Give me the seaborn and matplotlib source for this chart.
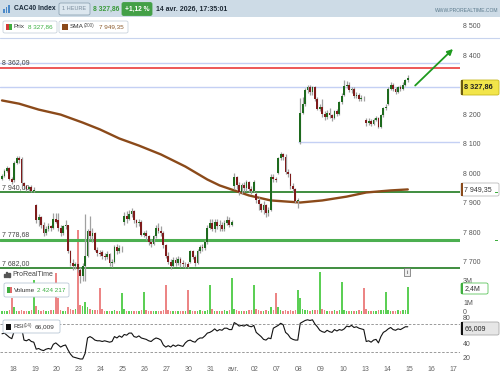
import numpy as np
import pandas as pd
import matplotlib
matplotlib.use("Agg")
import matplotlib.pyplot as plt
import matplotlib.transforms as mtransforms
from matplotlib.patches import Rectangle, FancyBboxPatch
import seaborn as sns

# ---------------- data (hourly bars, CAC40) ----------------
DAY_LABELS = ['18', '19', '20', '23', '24', '25', '26', '27', '30', '31', 'avr.',
              '02', '07', '08', '09', '10', '13', '14', '15', '16', '17']
BARS_PER_DAY = 9
FIRST_BAR = -5   # 5 bars of the previous session (17 mars)

OPEN = [7985, 7995, 8012, 8022, 7985,
        7980, 8040, 8055, 8052, 7970, 7960, 7950, 7958, 7945,
        7895, 7845, 7855, 7830, 7800, 7815, 7825, 7820, 7850,
        7845, 7820, 7800, 7825, 7828, 7740, 7700, 7690, 7695,
        7675, 7655, 7690, 7725, 7810, 7790, 7800, 7745, 7735,
        7738, 7725, 7720, 7730, 7700, 7705, 7755, 7740, 7750,
        7840, 7860, 7850, 7865, 7875, 7845, 7835, 7840, 7795,
        7800, 7790, 7770, 7765, 7790, 7820, 7810, 7800, 7760,
        7725, 7705, 7690, 7710, 7700, 7715, 7700, 7695, 7695,
        7705, 7740, 7720, 7700, 7740, 7755, 7750, 7770, 7820,
        7835, 7815, 7840, 7825, 7830, 7815, 7835, 7845, 7830,
        7960, 7990, 7965, 7940, 7965, 7955, 7975, 7950, 7945,
        7935, 7915, 7900, 7880, 7895, 7870, 7880, 7990, 7985,
        8005, 8055, 8070, 8060, 8010, 8000, 7960, 7950, 7910,
        8110, 8210, 8240, 8285, 8295, 8280, 8295, 8255, 8222,
        8230, 8205, 8195, 8210, 8200, 8190, 8215, 8205, 8245,
        8270, 8300, 8305, 8285, 8290, 8265, 8270, 8255, 8260,
        8185, 8175, 8180, 8172, 8185, 8190, 8160, 8200, 8225,
        8240, 8290, 8305, 8290, 8280, 8295, 8290, 8305, 8320]
HIGH = [8000, 8018, 8028, 8024, 7990,
        8045, 8063, 8062, 8058, 7975, 7966, 7962, 7964, 7958,
        7900, 7865, 7860, 7840, 7825, 7835, 7830, 7870, 7868,
        7868, 7830, 7830, 7845, 7830, 7745, 7715, 7705, 7700,
        7685, 7700, 7865, 7815, 7860, 7820, 7805, 7755, 7745,
        7745, 7735, 7740, 7735, 7715, 7760, 7765, 7760, 7758,
        7872, 7875, 7880, 7886, 7880, 7850, 7848, 7845, 7808,
        7812, 7795, 7780, 7795, 7830, 7835, 7825, 7808, 7765,
        7738, 7712, 7720, 7722, 7725, 7720, 7710, 7705, 7705,
        7745, 7745, 7728, 7748, 7762, 7765, 7778, 7828, 7850,
        7850, 7848, 7850, 7845, 7838, 7845, 7858, 7855, 7845,
        8005, 7995, 7975, 7970, 7975, 7980, 7978, 7960, 7982,
        7940, 7925, 7905, 7910, 7900, 7890, 8000, 8000, 7992,
        8060, 8075, 8073, 8068, 8020, 8005, 7970, 7955, 7920,
        8260, 8262, 8292, 8303, 8303, 8300, 8300, 8262, 8238,
        8255, 8215, 8220, 8225, 8205, 8220, 8222, 8250, 8275,
        8320, 8318, 8312, 8298, 8295, 8280, 8275, 8268, 8265,
        8192, 8190, 8188, 8192, 8198, 8195, 8205, 8230, 8238,
        8295, 8312, 8310, 8298, 8300, 8302, 8312, 8325, 8336]
LOW = [7980, 7990, 8008, 7980, 7968,
       7975, 8035, 8040, 7965, 7952, 7944, 7945, 7940, 7940,
       7835, 7825, 7820, 7790, 7795, 7810, 7808, 7815, 7835,
       7810, 7790, 7795, 7815, 7735, 7690, 7675, 7678, 7670,
       7632, 7640, 7640, 7720, 7780, 7770, 7740, 7725, 7725,
       7712, 7710, 7712, 7690, 7685, 7700, 7730, 7735, 7738,
       7830, 7835, 7845, 7855, 7835, 7822, 7825, 7790, 7788,
       7778, 7760, 7755, 7760, 7785, 7800, 7790, 7750, 7718,
       7695, 7678, 7685, 7690, 7692, 7688, 7685, 7682, 7682,
       7700, 7712, 7690, 7695, 7735, 7740, 7745, 7765, 7815,
       7810, 7805, 7815, 7810, 7808, 7810, 7830, 7822, 7825,
       7950, 7950, 7932, 7935, 7940, 7945, 7940, 7935, 7940,
       7905, 7880, 7872, 7865, 7855, 7858, 7875, 7975, 7975,
       8000, 8050, 8050, 8000, 7990, 7950, 7940, 7905, 7885,
       8105, 8205, 8232, 8275, 8270, 8270, 8250, 8218, 8215,
       8195, 8185, 8188, 8192, 8182, 8188, 8198, 8200, 8240,
       8265, 8292, 8280, 8275, 8260, 8258, 8250, 8248, 8250,
       8165, 8168, 8165, 8168, 8180, 8158, 8158, 8195, 8220,
       8235, 8285, 8282, 8272, 8275, 8282, 8285, 8300, 8315]
CLOSE = [7995, 8012, 8022, 7985, 7975,
         8040, 8055, 8050, 7970, 7960, 7950, 7958, 7945, 7948,
         7845, 7855, 7830, 7800, 7815, 7825, 7820, 7850, 7840,
         7820, 7800, 7825, 7828, 7740, 7700, 7690, 7695, 7680,
         7655, 7690, 7725, 7810, 7790, 7800, 7745, 7735, 7730,
         7725, 7720, 7730, 7700, 7705, 7755, 7740, 7750, 7752,
         7860, 7850, 7865, 7875, 7845, 7835, 7840, 7795, 7800,
         7790, 7770, 7765, 7790, 7820, 7810, 7800, 7760, 7725,
         7705, 7690, 7710, 7700, 7715, 7700, 7695, 7695, 7688,
         7740, 7720, 7700, 7740, 7755, 7750, 7770, 7820, 7835,
         7815, 7840, 7825, 7830, 7815, 7835, 7845, 7830, 7838,
         7990, 7965, 7940, 7965, 7955, 7975, 7950, 7945, 7975,
         7915, 7900, 7880, 7895, 7870, 7880, 7990, 7985, 7980,
         8055, 8070, 8060, 8010, 8000, 7960, 7950, 7910, 7912,
         8210, 8240, 8285, 8295, 8280, 8295, 8255, 8222, 8230,
         8205, 8195, 8210, 8200, 8190, 8215, 8205, 8245, 8265,
         8300, 8305, 8285, 8290, 8265, 8270, 8255, 8260, 8258,
         8175, 8180, 8172, 8185, 8190, 8160, 8200, 8225, 8230,
         8290, 8305, 8290, 8280, 8295, 8290, 8305, 8320, 8327.86]
VOLUME_M = [0.3, 0.25, 0.3, 0.35, 1.5,
            0.6, 0.3, 0.25, 0.35, 0.3, 0.25, 0.3, 0.4, 3.1,
            0.7, 0.35, 0.3, 0.35, 0.3, 0.3, 0.35, 0.4, 3.7,
            1.5, 0.4, 0.3, 0.3, 0.6, 0.45, 0.4, 0.5, 7.6,
            0.8, 0.7, 1.1, 0.6, 0.5, 0.4, 0.35, 0.4, 2.4,
            0.5, 0.3, 0.25, 0.3, 0.3, 0.35, 0.3, 0.3, 1.9,
            0.5, 0.3, 0.25, 0.3, 0.3, 0.25, 0.3, 0.35, 2.0,
            0.4, 0.3, 0.3, 0.25, 0.3, 0.3, 0.3, 0.35, 2.6,
            0.4, 0.3, 0.25, 0.25, 0.3, 0.3, 0.25, 0.3, 2.2,
            0.4, 0.3, 0.3, 0.3, 0.35, 0.3, 0.3, 0.4, 2.6,
            0.45, 0.3, 0.3, 0.3, 0.3, 0.35, 0.3, 0.4, 3.3,
            0.5, 0.35, 0.3, 0.3, 0.3, 0.3, 0.35, 0.4, 2.6,
            0.5, 0.35, 0.3, 0.3, 0.35, 0.3, 0.6, 0.4, 1.9,
            0.6, 0.35, 0.3, 0.35, 0.3, 0.35, 0.3, 0.4, 2.2,
            1.5, 0.5, 0.4, 0.35, 0.3, 0.35, 0.4, 0.35, 3.8,
            0.5, 0.35, 0.3, 0.3, 0.3, 0.35, 0.3, 0.4, 2.9,
            0.4, 0.3, 0.3, 0.25, 0.3, 0.3, 0.35, 0.3, 2.4,
            0.45, 0.3, 0.3, 0.3, 0.3, 0.35, 0.4, 0.35, 2.0,
            0.4, 0.3, 0.3, 0.3, 0.35, 0.3, 0.35, 0.4, 2.424217]
RSI = [56, 57, 54, 51, 49,
       60, 63, 66, 65, 47, 46, 48, 45, 44,
       34, 35, 33, 32, 34, 35, 34, 41, 43,
       40, 37, 39, 40, 33, 27, 23, 22, 21,
       20, 20, 28, 50, 52, 50, 47, 46, 46,
       45, 46, 45, 44, 45, 52, 50, 53, 51,
       55, 54, 57, 57, 52, 51, 53, 50, 49,
       48, 46, 45, 48, 50, 49, 47, 40, 37,
       39, 37, 40, 38, 40, 39, 38, 43, 46,
       47, 45, 44, 48, 50, 50, 53, 57, 58,
       60, 63, 60, 62, 61, 64, 64, 62, 62,
       72, 70, 67, 68, 67, 69, 67, 66, 68,
       58, 55, 52, 48, 47, 50, 49, 64, 66,
       68, 71, 69, 58, 55, 50, 48, 47, 47,
       71, 73, 75, 76, 75, 76, 70, 66, 61,
       59, 58, 61, 59, 58, 62, 60, 62, 61,
       63, 67, 66, 68, 65, 66, 64, 63, 62,
       45, 46, 44, 47, 48, 43, 52, 58, 60,
       63, 65, 62, 61, 63, 62, 64, 66, 66.009]
SMA_BAR = [-5, 2, 10, 19, 28, 35, 43, 51, 60, 70, 79, 84, 90, 96, 105, 117, 126, 136, 144, 154, 161]
SMA_VAL = [8251, 8240, 8220, 8203, 8176, 8153, 8122, 8098, 8068, 8027, 7983, 7963, 7946,
           7929, 7912, 7905, 7912, 7925, 7939, 7946, 7949.35]

# tick labels visible in the reference (8 300, 2M and 60 are hidden behind value boxes)
PRICE_TICKS = [8500, 8400, 8200, 8100, 8000, 7900, 7800, 7700]
RSI_TICKS = [80, 40, 20]
VOL_TICKS = [0, 1, 3]
LEVELS_GREEN = [7940.00, 7778.68, 7682.00]
LEVEL_RED = 8362.09
LEVELS_BLUE = [8378, 8295]
GAP_LEVEL = 8110

# ---------------- figure ----------------
sns.set_theme(style="white")
plt.rcParams['font.family'] = ['Liberation Sans', 'DejaVu Sans']

W, H = 500, 375
fig = plt.figure(figsize=(5, 3.75), dpi=100)
fig.patch.set_facecolor('white')


def fx(x):
    return x / W


def fy(y):
    return 1 - y / H


PLOT_R = 460
ax = fig.add_axes([0, fy(316), PLOT_R / W, (316 - 38) / H])
axv = ax.twinx()
axr = fig.add_axes([0, fy(362), PLOT_R / W, (362 - 316) / H])
ax.set_zorder(axv.get_zorder() + 1)
ax.patch.set_visible(False)

idx = np.arange(FIRST_BAR, FIRST_BAR + len(CLOSE))
df = pd.DataFrame({'bar': idx, 'open': OPEN, 'high': HIGH, 'low': LOW,
                   'close': CLOSE, 'vol': VOLUME_M, 'rsi': RSI})
df['up'] = df['close'] >= df['open']

XMIN, XMAX = -5.82, 182.36
for a in (ax, axv, axr):
    a.set_xlim(XMIN, XMAX)
    for s in a.spines.values():
        s.set_visible(False)
    a.set_yticks([])
    a.tick_params(length=0)
ax.set_xticks([])
axv.set_xticks([])
ax.set_ylim(7520.3, 8462.7)
axv.set_ylim(-0.18, 25.09)
axr.set_ylim(15.7, 81.4)

# volume
vcol = np.where(df['up'], '#5ccf55', '#ec8585')
axv.bar(df['bar'], df['vol'], width=0.6, color=vcol, linewidth=0, zorder=1)

# horizontal levels
for lv in LEVELS_BLUE:
    ax.axhline(lv, color='#c4d0f4', lw=1.0, zorder=1)
ax.axhline(LEVEL_RED, color='#e82a2a', lw=1.1, zorder=1)
ax.hlines(GAP_LEVEL, 116.1, XMAX, color='#c4d0f4', lw=1.0, zorder=1)
ax.axhline(LEVELS_GREEN[0], color='#1f7a1f', lw=1.2, zorder=1)
ax.axhline(LEVELS_GREEN[1], color='#4caf50', lw=2.2, zorder=1)
ax.axhline(LEVELS_GREEN[2], color='#1f7a1f', lw=1.2, zorder=1)

# SMA
sns.lineplot(x=SMA_BAR, y=SMA_VAL, ax=ax, color='#8b4a1a', linewidth=1.7, zorder=2)

# candles
ax.vlines(df['bar'], df['low'], df['high'], color='#a0a0a0', lw=0.9, zorder=3)
body = np.maximum(np.abs(df['close'] - df['open']), 2.0)
ax.bar(df['bar'], body, bottom=np.minimum(df['open'], df['close']), width=0.75,
       color=np.where(df['up'], '#1e6a1e', '#7e1b1b'), linewidth=0, zorder=4)

# arrow
ax.annotate('', xy=(180.3, 8432), xytext=(163.2, 8295),
            arrowprops=dict(arrowstyle='-|>', color='#1e9a1e', lw=1.3, mutation_scale=8),
            zorder=5)

# RSI
axr.axhline(70, color='#8a8a8a', lw=0.6, ls=(0, (3, 2)))
axr.axhline(30, color='#8a8a8a', lw=0.6, ls=(0, (3, 2)))
sns.lineplot(data=df, x='bar', y='rsi', ax=axr, color='#111111', linewidth=0.8)
axr.set_xlabel('')
axr.set_ylabel('')
ax.set_xlabel('')
ax.set_ylabel('')

# x labels
day_pos = [BARS_PER_DAY * d - 0.5 for d in range(len(DAY_LABELS))]
axr.set_xticks(day_pos)
axr.set_xticklabels(DAY_LABELS, fontsize=5, color='#666666')
axr.tick_params(axis='x', length=0, pad=3)

# right axis labels
tp = mtransforms.blended_transform_factory(fig.transFigure, ax.transData)
tv = mtransforms.blended_transform_factory(fig.transFigure, axv.transData)
tr = mtransforms.blended_transform_factory(fig.transFigure, axr.transData)
for p in PRICE_TICKS:
    ax.text(fx(463), p, f"{p:,}".replace(',', ' '), transform=tp, fontsize=5,
            color='#555555', va='center', ha='left', clip_on=False)
for v in VOL_TICKS:
    axv.text(fx(463), v + (0.15 if v == 0 else 0), '0' if v == 0 else f"{v}M", transform=tv,
             fontsize=5, color='#555555', va='center', ha='left', clip_on=False)
for r in RSI_TICKS:
    axr.text(fx(463), r - (1.5 if r == 80 else 0), str(r), transform=tr, fontsize=5,
             color='#555555', va='center', ha='left', clip_on=False)

# left level labels
tl = mtransforms.blended_transform_factory(ax.transAxes, ax.transData)
ax.text(2 / PLOT_R, 8380, '8 362,09', transform=tl, fontsize=5, color='#444444', va='center')
ax.text(2 / PLOT_R, 7956, '7 940,00', transform=tl, fontsize=5, color='#444444', va='center')
ax.text(2 / PLOT_R, 7797, '7 778,68', transform=tl, fontsize=5, color='#444444', va='center')
ax.text(2 / PLOT_R, 7698, '7 682,00', transform=tl, fontsize=5, color='#444444', va='center')
fig.text(fx(12), fy(275), 'ProRealTime', fontsize=5, color='#444444', va='center')
for i, hh in enumerate([3, 5, 4]):
    fig.patches.append(Rectangle((fx(4 + i * 2.2), fy(277)), fx(1.2), hh / H,
                                 transform=fig.transFigure, color='#555555'))


def box(x0, y0, x1, y1, fc, ec, lw=0.6, rounded=True):
    p = FancyBboxPatch((fx(x0), fy(y1)), fx(x1 - x0), (y1 - y0) / H,
                       boxstyle='round,pad=0,rounding_size=0.004' if rounded else 'square,pad=0',
                       transform=fig.transFigure, facecolor=fc, edgecolor=ec, lw=lw, zorder=10)
    fig.patches.append(p)


def rect(x0, y0, x1, y1, c):
    fig.patches.append(Rectangle((fx(x0), fy(y1)), fx(x1 - x0), (y1 - y0) / H,
                                 transform=fig.transFigure, facecolor=c, edgecolor='none', zorder=11))


# header
fig.patches.append(Rectangle((0, fy(17)), 1, 17 / H, transform=fig.transFigure,
                             facecolor='#cddbe6', edgecolor='none', zorder=0))
for i, hh in enumerate([4, 6, 8]):
    rect(3 + i * 2.5, 13 - hh, 4.5 + i * 2.5, 13, '#4a88c8')
fig.text(fx(14), fy(9), 'CAC40 Index', fontsize=4.9, fontweight='bold', color='#1b2b3b', va='center', zorder=12)
box(59, 3, 90, 15, '#dce7ef', '#8fa5b5')
fig.text(fx(74.5), fy(9), '1 HEURE', fontsize=4.0, color='#7a8c9c', va='center', ha='center', zorder=12)
fig.text(fx(93), fy(9), '8 327,86', fontsize=4.9, fontweight='bold', color='#3a9a3a', va='center', zorder=12)
box(122, 2.5, 152, 15.5, '#43a047', '#43a047')
fig.text(fx(137), fy(9), '+1,12 %', fontsize=4.8, fontweight='bold', color='white', va='center', ha='center', zorder=12)
fig.text(fx(156), fy(9), '14 avr. 2026, 17:35:01', fontsize=5.0, fontweight='bold', color='#1e2a36', va='center', zorder=12)
fig.text(fx(498), fy(10), 'WWW.PROREALTIME.COM', fontsize=3.6, color='#5b7a8c', va='center', ha='right', zorder=12)

# legend row
box(3, 21, 57, 33, 'white', '#c9d3dc')
rect(6, 24, 9, 30, '#d43a3a')
rect(9, 24, 12, 30, '#3fae3f')
fig.text(fx(14), fy(27), 'Prix', fontsize=4.6, color='#333333', va='center', zorder=12)
fig.text(fx(28), fy(27), '8 327,86', fontsize=4.6, color='#3cb043', va='center', zorder=12)
box(59, 21, 128, 33, 'white', '#c9d3dc')
rect(62, 24, 68, 30, '#8b4a1a')
fig.text(fx(70), fy(27), 'SMA', fontsize=4.6, color='#333333', va='center', zorder=12)
fig.text(fx(84), fy(25.5), '(200)', fontsize=3.4, color='#555555', va='center', zorder=12)
fig.text(fx(99), fy(27), '7 949,35', fontsize=4.6, color='#8b5a2b', va='center', zorder=12)
fig.lines.append(plt.Line2D([0, 1], [fy(38), fy(38)], transform=fig.transFigure,
                            color='#c8d4ee', lw=0.8))

# volume / rsi legends
box(4, 283, 69, 297, 'white', '#b9c8d6')
rect(7, 287, 9.5, 293, '#3fae3f')
rect(9.5, 287, 12, 293, '#e06a6a')
fig.text(fx(14), fy(290), 'Volume', fontsize=4.6, color='#333333', va='center', zorder=12)
fig.text(fx(37), fy(290), '2 424 217', fontsize=4.6, color='#3cb043', va='center', zorder=12)
box(3, 320, 60, 333, 'white', '#b9c8d6')
rect(6, 323.5, 11, 329.5, '#111111')
fig.text(fx(13), fy(326.5), 'RSI', fontsize=4.6, color='#333333', va='center', zorder=12)
fig.text(fx(23.5), fy(325), '(14)', fontsize=3.4, color='#555555', va='center', zorder=12)
fig.text(fx(35), fy(326.5), '66,009', fontsize=4.6, color='#333333', va='center', zorder=12)

# info icon
box(404, 268, 410, 276, '#eeeeee', '#666666', lw=0.5, rounded=False)
fig.text(fx(407), fy(272), 'i', fontsize=4, color='#333333', va='center', ha='center', zorder=12)

# right value boxes
box(461, 80, 499, 95, '#f2e54a', '#c8b820')
rect(461, 80, 463, 95, '#6b5a10')
fig.text(fx(464.5), fy(87.5), '8 327,86', fontsize=5.3, fontweight='bold', color='#222222', va='center', zorder=12)
box(461, 183, 499, 196, 'white', '#bbbbbb')
rect(461, 183, 463, 196, '#8b4a1a')
fig.text(fx(464.5), fy(189.5), '7 949,35', fontsize=5, color='#333333', va='center', zorder=12)
box(461, 283, 488, 294, 'white', '#5cc45c')
rect(461, 283, 463, 294, '#3fae3f')
fig.text(fx(464.5), fy(288.5), '2,4M', fontsize=5, color='#333333', va='center', zorder=12)
box(461, 322, 499, 335, '#e6e6e6', '#aaaaaa')
rect(461, 322, 463, 335, '#111111')
fig.text(fx(464.5), fy(328.5), '66,009', fontsize=5, color='#222222', va='center', zorder=12)

# small green markers at right edge
for yy in (192, 240):
    rect(495, yy - 0.5, 498, yy + 0.5, '#3fae3f')

fig.savefig('out.png', dpi=100, facecolor='white')
